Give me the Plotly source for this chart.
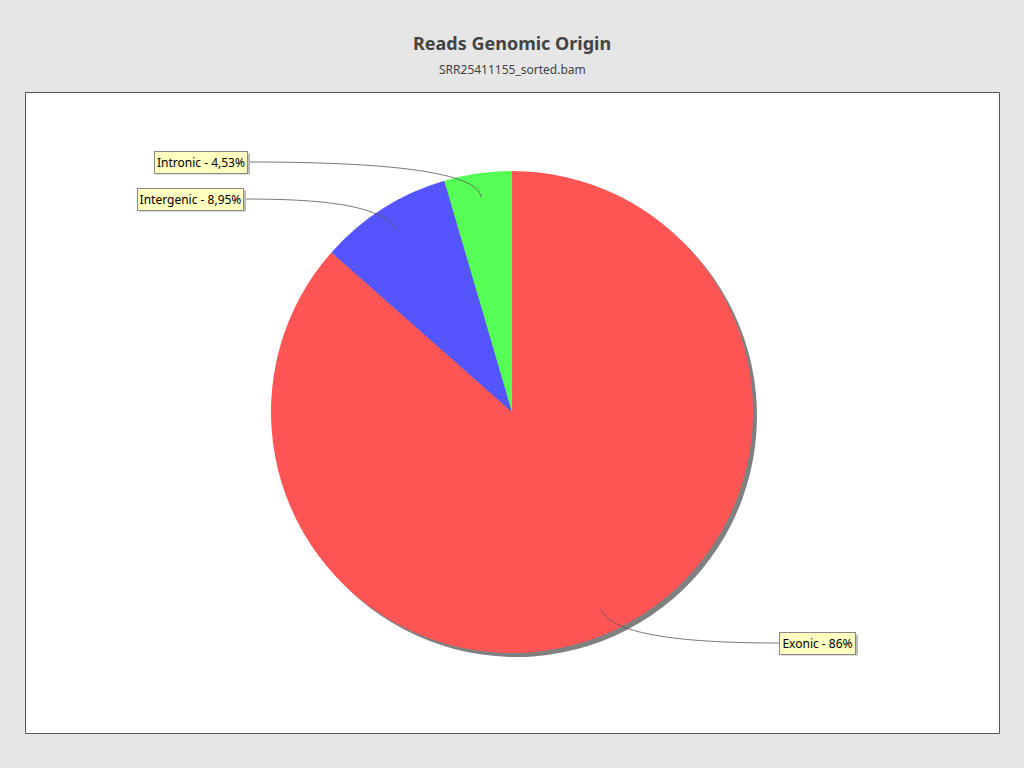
import math
import plotly.graph_objects as go

# ---- data ----
categories = ["Exonic", "Intergenic", "Intronic"]
values = [86.52, 8.95, 4.53]
value_labels = ["86%", "8,95%", "4,53%"]
colors = ["#FF5555", "#5555FF", "#55FF55"]

title = "Reads Genomic Origin"
subtitle = "SRR25411155_sorted.bam"

# ---- layout geometry (pixels) ----
W, H = 1024, 768
CX, CY, R = 512, 412, 241
SH = 4  # shadow offset
FONT = "Noto Sans"

# label box placement: (edge x, center y, side, text width)
label_pos = {
    "Exonic": (779, 643, "left", 71),
    "Intergenic": (244, 199, "right", 101),
    "Intronic": (248, 162, "right", 88),
}


def dom(cx, cy, r):
    return dict(x=[(cx - r) / W, (cx + r) / W],
                y=[(H - cy - r) / H, (H - cy + r) / H])


fig = go.Figure()
# invisible pixel-coordinate axis holder
fig.add_trace(go.Scatter(x=[None], y=[None], showlegend=False, hoverinfo="skip"))

# shadow pie
fig.add_trace(go.Pie(labels=categories, values=values, sort=False, direction="clockwise",
                     rotation=0, domain=dom(CX + SH, CY + SH, R),
                     marker=dict(colors=["#808080"] * len(values), line=dict(width=0)),
                     textinfo="none", hoverinfo="skip", showlegend=False))
# main pie
fig.add_trace(go.Pie(labels=categories, values=values, sort=False, direction="clockwise",
                     rotation=0, domain=dom(CX, CY, R),
                     marker=dict(colors=colors, line=dict(width=0)),
                     textinfo="none", showlegend=False))

shapes = [
    dict(type="rect", xref="x", yref="y", x0=25.5, y0=92.5, x1=999.5, y1=733.5,
         fillcolor="white", line=dict(color="#555555", width=1), layer="below"),
]
annotations = [
    dict(text="<b>" + title + "</b>", x=W / 2, y=43, xref="x", yref="y",
         showarrow=False, font=dict(family=FONT, size=18, color="#444444")),
    dict(text=subtitle, x=W / 2, y=69, xref="x", yref="y",
         showarrow=False, font=dict(family=FONT, size=12, color="#444444")),
]

total = sum(values)
cum = 0.0
for cat, v, vl in zip(categories, values, value_labels):
    mid = (cum + v / 2) / total * 2 * math.pi
    cum += v
    ux, uy = math.sin(mid), -math.cos(mid)
    ax, ay = CX + 0.9 * R * ux, CY + 0.9 * R * uy
    ex, ey, side, tw = label_pos[cat]
    c1x, c1y = ax + 0.12 * R * ux, ay + 0.12 * R * uy
    sgn = 1 if side == "left" else -1
    c2x, c2y = ex - sgn * 0.5 * abs(ex - ax), ey
    shapes.append(dict(type="path", xref="x", yref="y", layer="above",
                       path=f"M {ax},{ay} C {c1x},{c1y} {c2x},{c2y} {ex},{ey}",
                       line=dict(color="#555555", width=0.8)))
    bw = tw + 6
    bh = 21
    x0 = ex if side == "left" else ex - bw
    shapes.append(dict(type="rect", xref="x", yref="y", layer="above",
                       x0=x0 + 2, x1=x0 + bw + 2, y0=ey - bh / 2 + 2, y1=ey + bh / 2 + 2,
                       fillcolor="#BBBBBB", line=dict(width=0)))
    annotations.append(dict(text=f"{cat} - {vl}", x=ex, y=ey, xref="x", yref="y",
                            xanchor=side, yanchor="middle", showarrow=False,
                            width=tw, bgcolor="#FFFFC0", bordercolor="#888888",
                            borderwidth=1, borderpad=2,
                            font=dict(family=FONT, size=12, color="black")))

fig.update_layout(
    width=W, height=H, margin=dict(l=0, r=0, t=0, b=0),
    paper_bgcolor="#E6E6E6", plot_bgcolor="#E6E6E6",
    xaxis=dict(range=[0, W], visible=False, fixedrange=True, domain=[0, 1]),
    yaxis=dict(range=[H, 0], visible=False, fixedrange=True, domain=[0, 1]),
    shapes=shapes, annotations=annotations, showlegend=False,
)

fig.write_html("out.html")
